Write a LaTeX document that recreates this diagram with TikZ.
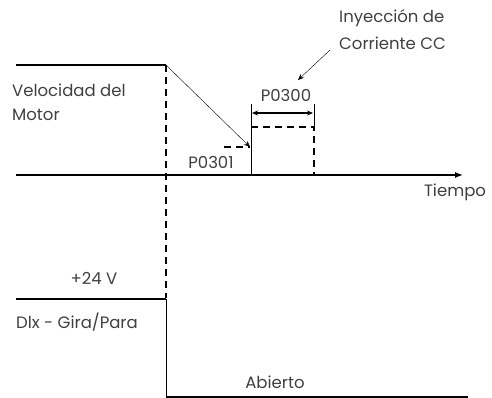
\documentclass[tikz,border=0pt]{standalone}
\usepackage{fontspec}
\setmainfont{Poppins}
\usetikzlibrary{arrows.meta}
\begin{document}
\begin{tikzpicture}[x=1pt, y=-1pt, font=\fontsize{16.5}{19}\selectfont,
    lbl/.style={text=black!75, inner sep=0pt},
    sig/.style={line width=1.3pt},
    dsh/.style={line width=1.6pt, dash pattern=on 7pt off 5pt}]
  \useasboundingbox (0,0) rectangle (492,398);
  % speed curve
  \coordinate (vs) at (16,65);
  \coordinate (vd) at (166,65);
  \coordinate (ve) at (250,147);
  \draw[sig] (vs) -- (vd);
  \draw[-{Stealth[length=6pt,width=5pt]}, thin] (vd) -- (ve);
  \coordinate (p1a) at (224,147);
  \draw[dsh] (p1a) -- (ve);
  % time axis
  \coordinate (ta) at (16,175);
  \coordinate (tb) at (463,175);
  \draw[sig, -{Latex[length=8pt,width=6pt]}] (ta) -- (tb);
  \node[lbl] (tlbl) at (455,192) {Tiempo};
  % dc injection window
  \coordinate (ia) at (251,104);
  \coordinate (ib) at (251,175);
  \coordinate (ic) at (314,104);
  \coordinate (id) at (314,127);
  \coordinate (ie) at (314,175);
  \draw[thin] (ia) -- (ib);
  \draw[thin] (ic) -- (id);
  \draw[dsh] (251,127) -- (id) -- (ie);
  \draw[{Stealth[length=6pt,width=5pt]}-{Stealth[length=6pt,width=5pt]}, line width=1.2pt]
    (252,113) -- (313,113);
  \node[lbl] (p300) at (286,95) {P0300};
  \node[lbl] (p301) at (211,162) {P0301};
  \node[lbl, anchor=west] (inj1) at (339,18) {Inyección de};
  \node[lbl, anchor=west] (inj2) at (339,43) {Corriente CC};
  \coordinate (lead) at (298,80);
  \draw[-{Stealth[length=6pt,width=5pt]}, thin] (330,50) -- (lead);
  \node[lbl, anchor=west] (vel1) at (12,90) {Velocidad del};
  \node[lbl, anchor=west] (vel2) at (12,115) {Motor};
  % cut line
  \coordinate (cut) at (166,298);
  \draw[dsh] (vd) -- (cut);
  % digital input
  \coordinate (da) at (16,299);
  \coordinate (db) at (166,299);
  \coordinate (dc) at (166,397);
  \coordinate (dd) at (468,397);
  \draw[sig] (da) -- (db);
  \draw[thin] (db) -- (dc);
  \draw[sig] (dc) -- (dd);
  \node[lbl] (v24) at (94,278) {+24 V};
  \node[lbl, anchor=west] (dix) at (16,322) {Dlx~-~Gira/Para};
  \node[lbl] (open) at (275,382) {Abierto};
\end{tikzpicture}
\end{document}
